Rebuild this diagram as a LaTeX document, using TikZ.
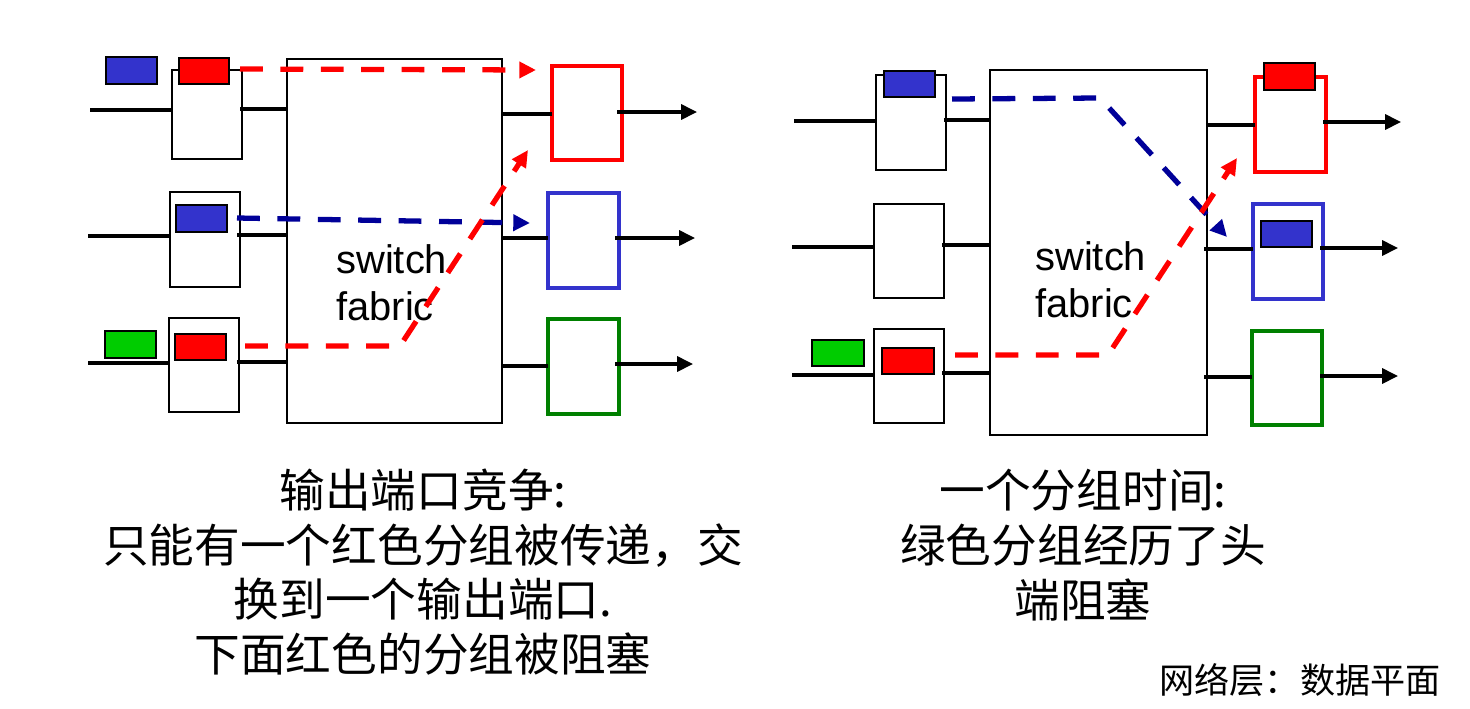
\documentclass[tikz,border=0pt]{standalone}
\usepackage{fontspec}
\setmainfont{Liberation Sans}
\newfontfamily\cjk{Noto Sans CJK SC}
\usetikzlibrary{arrows.meta}
\definecolor{pred}{HTML}{FF0000}
\definecolor{pblue}{HTML}{3333CC}
\definecolor{navy}{HTML}{000099}
\definecolor{pgreen}{HTML}{00CC00}
\definecolor{dgreen}{HTML}{008000}
\newcommand\pbox[6]{\node[#6,anchor=north west,minimum width={(#4-#2)*0.02cm},minimum height={(#5-#3)*0.02cm}] (#1) at (#2,#3) {};}
\tikzset{
  qbox/.style={draw=black,line width=0.9pt,fill=white,inner sep=0pt,outer sep=0pt},
  obox/.style={draw=#1,line width=2pt,fill=white,inner sep=0pt,outer sep=0pt},
  pkt/.style={draw=black,line width=0.9pt,fill=#1,inner sep=0pt,outer sep=0pt},
  fabric/.style={draw=black,line width=1pt,fill=white,inner sep=0pt,outer sep=0pt},
  wire/.style={line width=1.9pt,line cap=butt},
  outarrow/.style={wire,-{Triangle[length=9pt,width=8.5pt]}},
  flow/.style={draw=#1,line width=3pt,dash pattern=on 13pt off 10pt,-{Triangle[length=9.5pt,width=9pt,fill=#1]}},
  fabtext/.style={align=left,font=\fontsize{22.7}{27}\selectfont,inner sep=0pt},
  captext/.style={align=center,font=\cjk\fontsize{26}{31.2}\selectfont,inner sep=0pt}
}
\begin{document}
\begin{tikzpicture}[x=0.02cm,y=-0.02cm]
\useasboundingbox (0,0) rectangle (1470,708);
\fill[white] (0,0) rectangle (1470,708);

% ---------------- left panel ----------------
\pbox{fabL}{287}{59}{502}{423}{fabric}
\pbox{inA}{172}{70}{242}{159}{qbox}
\pbox{inB}{170}{192}{240}{287}{qbox}
\pbox{inC}{169}{318}{239}{412}{qbox}
\pbox{outA}{552}{66}{622}{160}{obox=pred}
\pbox{outB}{548}{193}{619}{288}{obox=pblue}
\pbox{outC}{548}{319}{619}{414}{obox=dgreen}
\pbox{pkA0}{106}{57}{157}{84}{pkt=pblue}
\pbox{pkA}{179}{58}{229}{84}{pkt=pred}
\pbox{pkB}{176}{205}{227}{232}{pkt=pblue}
\pbox{pkC}{175}{334}{226}{360}{pkt=pred}
\pbox{pkC0}{105}{331}{156}{358}{pkt=pgreen}

\coordinate (lA) at (90,110);
\coordinate (lB) at (88,236);
\coordinate (lC) at (88,363);
\draw[wire] (lA) -- (lA -| inA.west);
\draw[wire] (lB) -- (lB -| inB.west);
\draw[wire] (lC) -- (lC -| inC.west);
\coordinate (mA) at (240,109);
\coordinate (mB) at (237,235);
\coordinate (mC) at (237,362);
\draw[wire] (mA) -- (mA -| fabL.west);
\draw[wire] (mB) -- (mB -| fabL.west);
\draw[wire] (mC) -- (mC -| fabL.west);
\coordinate (oA) at (502,114);
\coordinate (oB) at (502,238);
\coordinate (oC) at (502,366);
\draw[wire] (oA) -- (oA -| outA.west);
\draw[wire] (oB) -- (oB -| outB.west);
\draw[wire] (oC) -- (oC -| outC.west);
\coordinate (eA) at (697,112);
\coordinate (eB) at (695,238);
\coordinate (eC) at (693,364);
\draw[outarrow] (eA -| 617,0) -- (eA);
\draw[outarrow] (eB -| 615,0) -- (eB);
\draw[outarrow] (eC -| 615,0) -- (eC);

\node[fabtext,anchor=west] (swL) at (336,283) {switch\\fabric};

\coordinate (fA1) at (240,69);
\coordinate (fA2) at (536,70);
\draw[flow=pred] (fA1) -- (fA2);
\coordinate (fB1) at (237,218);
\coordinate (fB2) at (530,223);
\draw[flow=navy] (fB1) -- (fB2);
\coordinate (fC1) at (245,346);
\coordinate (fC2) at (400,346);
\coordinate (fC3) at (528,150);
\draw[flow=pred] (fC1) -- (fC2) -- (fC3);

% ---------------- right panel ----------------
\pbox{fabR}{990}{70}{1207}{435}{fabric}
\pbox{inD}{876}{75}{946}{170}{qbox}
\pbox{inE}{874}{204}{944}{298}{qbox}
\pbox{inF}{874}{329}{944}{423}{qbox}
\pbox{outD}{1255}{77}{1326}{172}{obox=pred}
\pbox{outE}{1253}{204}{1323}{299}{obox=pblue}
\pbox{outF}{1252}{331}{1322}{425}{obox=dgreen}
\pbox{pkD}{884}{71}{935}{97}{pkt=pblue}
\pbox{pkF}{882}{348}{934}{374}{pkt=pred}
\pbox{pkF0}{812}{340}{864}{366}{pkt=pgreen}
\pbox{pkOD}{1264}{63}{1315}{90}{pkt=pred}
\pbox{pkOE}{1261}{221}{1312}{247}{pkt=pblue}

\coordinate (lD) at (794,121);
\coordinate (lE) at (792,247);
\coordinate (lF) at (792,375);
\draw[wire] (lD) -- (lD -| inD.west);
\draw[wire] (lE) -- (lE -| inE.west);
\draw[wire] (lF) -- (lF -| inF.west);
\coordinate (mD) at (944,120);
\coordinate (mE) at (942,245);
\coordinate (mF) at (942,373);
\draw[wire] (mD) -- (mD -| fabR.west);
\draw[wire] (mE) -- (mE -| fabR.west);
\draw[wire] (mF) -- (mF -| fabR.west);
\coordinate (oD) at (1207,125);
\coordinate (oE) at (1204,249);
\coordinate (oF) at (1204,377);
\draw[wire] (oD) -- (oD -| outD.west);
\draw[wire] (oE) -- (oE -| outE.west);
\draw[wire] (oF) -- (oF -| outF.west);
\coordinate (eD) at (1401,122);
\coordinate (eE) at (1398,248);
\coordinate (eF) at (1398,376);
\draw[outarrow] (eD -| 1323,0) -- (eD);
\draw[outarrow] (eE -| 1320,0) -- (eE);
\draw[outarrow] (eF -| 1320,0) -- (eF);

\node[fabtext,anchor=west] (swR) at (1035,280) {switch\\fabric};

\coordinate (fD1) at (952,99);
\coordinate (fD2) at (1100,98);
\coordinate (fD3) at (1227,237);
\draw[flow=navy] (fD1) -- (fD2) -- (fD3);
\coordinate (fF1) at (955,355);
\coordinate (fF2) at (1108,355);
\coordinate (fF3) at (1237,158);
\draw[flow=pred] (fF1) -- (fF2) -- (fF3);

% ---------------- captions ----------------
\node[captext] (capL) at (423,572) {输出端口竞争:\\只能有一个红色分组被传递，交\\换到一个输出端口.\\下面红色的分组被阻塞};
\node[captext] (capR) at (1083,545) {一个分组时间:\\绿色分组经历了头\\端阻塞};
\node[inner sep=0pt,anchor=east,font=\cjk\fontsize{20}{24}\selectfont] (foot) at (1441,680) {网络层：数据平面};
\end{tikzpicture}
\end{document}
